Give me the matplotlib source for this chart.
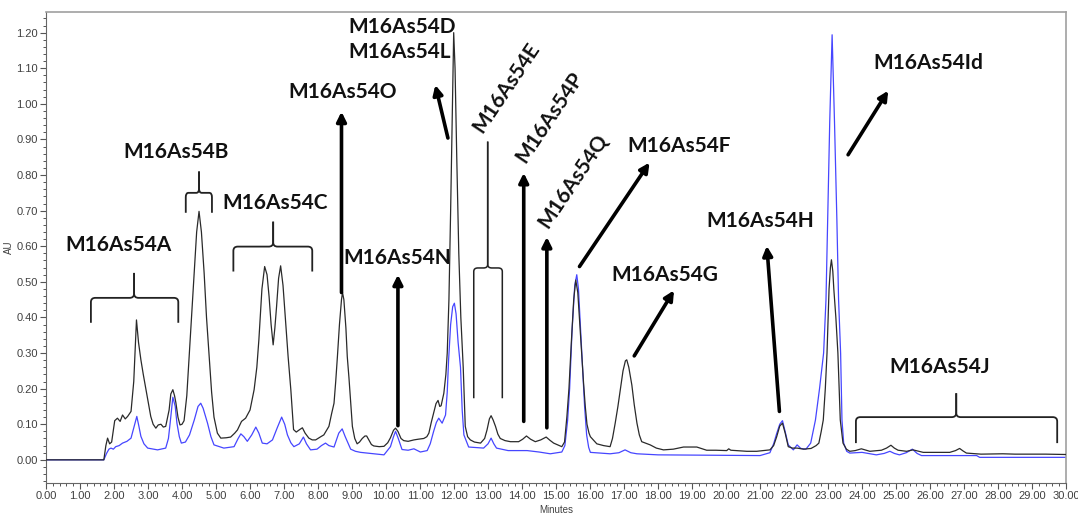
import numpy as np
import matplotlib
matplotlib.use("Agg")
import matplotlib.pyplot as plt
from matplotlib.path import Path
from matplotlib.patches import PathPatch
from matplotlib.ticker import MultipleLocator, FormatStrFormatter

# Cromatograma 1: traza negra (minutos, AU)
t_negro = [0.00, 1.70, 1.76, 1.81, 1.87, 1.93, 2.02, 2.10, 2.18, 2.25, 2.33, 2.40, 2.50, 2.58,
           2.66, 2.72, 2.79, 2.86, 2.94, 3.08, 3.15, 3.23, 3.30, 3.38, 3.45, 3.52, 3.62, 3.67,
           3.73, 3.78, 3.82, 3.88, 3.94, 4.00, 4.06, 4.14, 4.21, 4.29, 4.36, 4.43, 4.50, 4.57,
           4.65, 4.72, 4.80, 4.87, 4.94, 5.04, 5.14, 5.30, 5.43, 5.55, 5.63, 5.75, 5.87, 6.00,
           6.12, 6.20, 6.26, 6.35, 6.43, 6.50, 6.56, 6.62, 6.68, 6.73, 6.78, 6.84, 6.90, 6.97,
           7.05, 7.12, 7.20, 7.28, 7.36, 7.46, 7.54, 7.62, 7.73, 7.83, 7.93, 8.08, 8.17, 8.32,
           8.40, 8.47, 8.52, 8.57, 8.63, 8.69, 8.72, 8.76, 8.82, 8.86, 8.91, 8.96, 9.01, 9.08,
           9.15, 9.22, 9.30, 9.38, 9.43, 9.50, 9.57, 9.64, 9.80, 9.94, 10.05, 10.13, 10.22,
           10.28, 10.35, 10.44, 10.52, 10.65, 10.82, 10.95, 11.11, 11.20, 11.26, 11.33, 11.40,
           11.47, 11.53, 11.58, 11.62, 11.70, 11.76, 11.80, 11.85, 11.90, 11.95, 11.99, 12.03,
           12.08, 12.14, 12.20, 12.27, 12.33, 12.40, 12.48, 12.60, 12.78, 12.90, 12.97, 13.04,
           13.09, 13.15, 13.22, 13.29, 13.36, 13.50, 13.66, 13.90, 14.02, 14.13, 14.25, 14.39,
           14.55, 14.71, 14.82, 14.93, 15.05, 15.17, 15.25, 15.32, 15.38, 15.45, 15.52, 15.58,
           15.64, 15.70, 15.76, 15.81, 15.86, 15.91, 15.97, 16.01, 16.20, 16.40, 16.59, 16.66,
           16.74, 16.82, 16.89, 16.97, 17.04, 17.08, 17.14, 17.23, 17.30, 17.38, 17.45, 17.52,
           17.77, 17.95, 18.16, 18.45, 18.75, 19.14, 19.43, 19.70, 20.02, 20.08, 20.14, 20.61,
           20.90, 21.10, 21.29, 21.40, 21.49, 21.58, 21.66, 21.74, 21.83, 21.95, 22.09, 22.28,
           22.50, 22.65, 22.73, 22.80, 22.86, 22.92, 22.97, 23.03, 23.07, 23.10, 23.14, 23.17,
           23.23, 23.29, 23.36, 23.44, 23.54, 23.64, 23.80, 23.98, 24.23, 24.57, 24.72, 24.85,
           24.95, 25.06, 25.31, 25.50, 25.80, 26.58, 26.75, 26.87, 26.97, 27.07, 27.50, 28.14,
           28.50, 28.92, 29.40, 30.00]
au_negro = [0.000, 0.000, 0.040, 0.061, 0.045, 0.050, 0.110, 0.117, 0.108, 0.126, 0.115, 0.122,
            0.136, 0.220, 0.393, 0.330, 0.281, 0.240, 0.197, 0.122, 0.100, 0.089, 0.098, 0.100,
            0.092, 0.094, 0.140, 0.185, 0.197, 0.180, 0.160, 0.120, 0.098, 0.100, 0.110, 0.180,
            0.290, 0.420, 0.525, 0.640, 0.698, 0.640, 0.525, 0.400, 0.290, 0.190, 0.120, 0.075,
            0.061, 0.062, 0.064, 0.075, 0.084, 0.108, 0.117, 0.140, 0.197, 0.260, 0.337, 0.480,
            0.543, 0.520, 0.459, 0.380, 0.323, 0.370, 0.430, 0.510, 0.545, 0.490, 0.384, 0.290,
            0.197, 0.085, 0.078, 0.085, 0.090, 0.075, 0.061, 0.056, 0.056, 0.065, 0.070, 0.094,
            0.130, 0.159, 0.220, 0.290, 0.380, 0.450, 0.470, 0.450, 0.370, 0.290, 0.230, 0.160,
            0.094, 0.060, 0.045, 0.050, 0.060, 0.067, 0.067, 0.055, 0.043, 0.039, 0.037, 0.038,
            0.048, 0.062, 0.083, 0.089, 0.080, 0.060, 0.054, 0.052, 0.056, 0.058, 0.060, 0.065,
            0.075, 0.105, 0.131, 0.158, 0.167, 0.150, 0.152, 0.187, 0.240, 0.300, 0.450, 0.700,
            0.980, 1.200, 1.100, 0.850, 0.580, 0.400, 0.260, 0.094, 0.065, 0.056, 0.050, 0.047,
            0.060, 0.084, 0.115, 0.124, 0.112, 0.094, 0.072, 0.060, 0.054, 0.051, 0.051, 0.058,
            0.067, 0.058, 0.051, 0.056, 0.064, 0.055, 0.047, 0.042, 0.037, 0.050, 0.122, 0.200,
            0.330, 0.450, 0.505, 0.470, 0.380, 0.290, 0.215, 0.150, 0.100, 0.075, 0.065, 0.045,
            0.040, 0.037, 0.060, 0.103, 0.150, 0.197, 0.250, 0.278, 0.281, 0.260, 0.210, 0.155,
            0.103, 0.070, 0.051, 0.042, 0.033, 0.028, 0.030, 0.036, 0.036, 0.027, 0.027, 0.026,
            0.031, 0.027, 0.024, 0.024, 0.026, 0.028, 0.040, 0.065, 0.095, 0.103, 0.075, 0.037,
            0.033, 0.033, 0.030, 0.032, 0.040, 0.047, 0.080, 0.112, 0.200, 0.300, 0.480, 0.540,
            0.562, 0.530, 0.480, 0.400, 0.300, 0.112, 0.047, 0.030, 0.024, 0.026, 0.031, 0.024,
            0.027, 0.033, 0.041, 0.033, 0.027, 0.024, 0.028, 0.021, 0.021, 0.026, 0.032, 0.025,
            0.019, 0.016, 0.017, 0.016, 0.016, 0.016, 0.015]

# Cromatograma 2: traza azul (minutos, AU)
t_azul = [0.00, 1.70, 1.78, 1.85, 1.91, 1.98, 2.05, 2.15, 2.25, 2.38, 2.50, 2.58, 2.67, 2.73,
          2.79, 2.88, 2.99, 3.28, 3.52, 3.60, 3.65, 3.73, 3.80, 3.85, 3.92, 3.98, 4.10, 4.22,
          4.36, 4.47, 4.55, 4.62, 4.75, 4.85, 4.94, 5.23, 5.53, 5.65, 5.73, 5.82, 5.92, 6.05,
          6.17, 6.26, 6.36, 6.50, 6.66, 6.80, 6.93, 7.02, 7.10, 7.20, 7.29, 7.45, 7.57, 7.66,
          7.78, 7.97, 8.10, 8.22, 8.32, 8.47, 8.61, 8.71, 8.80, 8.96, 9.10, 9.25, 9.64, 9.94,
          10.13, 10.22, 10.28, 10.36, 10.47, 10.65, 10.82, 11.01, 11.21, 11.30, 11.40, 11.48,
          11.55, 11.65, 11.75, 11.80, 11.84, 11.90, 11.96, 12.01, 12.06, 12.12, 12.19, 12.24,
          12.29, 12.43, 12.87, 13.00, 13.09, 13.17, 13.25, 13.59, 14.15, 14.50, 14.83, 15.17,
          15.26, 15.34, 15.40, 15.47, 15.55, 15.61, 15.66, 15.72, 15.78, 15.84, 15.90, 15.96,
          16.01, 16.59, 16.85, 17.03, 17.20, 17.38, 18.00, 19.50, 21.00, 21.29, 21.40, 21.49,
          21.58, 21.66, 21.75, 21.83, 21.98, 22.09, 22.20, 22.35, 22.49, 22.63, 22.75, 22.87,
          22.94, 22.99, 23.05, 23.12, 23.19, 23.26, 23.31, 23.37, 23.41, 23.46, 23.55, 23.64,
          24.00, 24.42, 24.65, 24.82, 24.95, 25.10, 25.30, 25.48, 25.62, 25.75, 27.37, 27.46,
          30.00]
au_azul = [0.000, 0.000, 0.018, 0.030, 0.033, 0.030, 0.037, 0.040, 0.047, 0.052, 0.061, 0.090,
           0.122, 0.095, 0.066, 0.045, 0.033, 0.028, 0.033, 0.060, 0.103, 0.176, 0.150, 0.103,
           0.065, 0.047, 0.050, 0.070, 0.112, 0.150, 0.159, 0.145, 0.103, 0.065, 0.042, 0.033,
           0.037, 0.060, 0.073, 0.065, 0.052, 0.070, 0.092, 0.075, 0.047, 0.045, 0.056, 0.090,
           0.120, 0.100, 0.070, 0.048, 0.037, 0.045, 0.064, 0.045, 0.028, 0.030, 0.040, 0.047,
           0.040, 0.036, 0.075, 0.087, 0.065, 0.030, 0.024, 0.021, 0.017, 0.014, 0.037, 0.065,
           0.080, 0.060, 0.029, 0.027, 0.031, 0.022, 0.026, 0.045, 0.080, 0.105, 0.117, 0.103,
           0.126, 0.190, 0.280, 0.380, 0.430, 0.440, 0.410, 0.330, 0.260, 0.140, 0.070, 0.036,
           0.033, 0.045, 0.061, 0.045, 0.033, 0.026, 0.026, 0.022, 0.017, 0.022, 0.040, 0.110,
           0.200, 0.360, 0.490, 0.520, 0.480, 0.370, 0.260, 0.150, 0.070, 0.035, 0.021, 0.017,
           0.020, 0.028, 0.020, 0.017, 0.014, 0.013, 0.012, 0.020, 0.045, 0.074, 0.100, 0.110,
           0.075, 0.042, 0.028, 0.042, 0.032, 0.030, 0.047, 0.112, 0.200, 0.300, 0.450, 0.674,
           0.950, 1.194, 0.950, 0.674, 0.450, 0.300, 0.112, 0.047, 0.024, 0.019, 0.021, 0.014,
           0.018, 0.024, 0.018, 0.014, 0.020, 0.030, 0.018, 0.012, 0.012, 0.007, 0.007]

FUENTE = ["Lato", "DejaVu Sans"]
FUENTE_EJES = ["Liberation Sans Narrow", "Liberation Sans", "DejaVu Sans"]


def llave(ax, x0, x1, xm, y_ext, y_barra, y_punta, rx=0.13, ry=0.012, lw=1.3):
    """Dibuja una llave horizontal con extremos hacia abajo y punta hacia arriba."""
    for xe, s in ((x0, 1), (x1, -1)):
        verts = [(xe, y_ext), (xe, y_barra - ry), (xe, y_barra), (xe + s * rx, y_barra),
                 (xm - s * rx, y_barra), (xm, y_barra), (xm, y_barra + ry), (xm, y_punta)]
        codes = [Path.MOVETO, Path.LINETO, Path.CURVE3, Path.CURVE3,
                 Path.LINETO, Path.CURVE3, Path.CURVE3, Path.LINETO]
        ax.add_patch(PathPatch(Path(verts, codes), fill=False, edgecolor="#222222",
                               lw=lw, clip_on=False))


def flecha(ax, cola, punta):
    ax.annotate("", xy=punta, xytext=cola,
                arrowprops=dict(arrowstyle="-|>", color="black", lw=2.6,
                                mutation_scale=14, shrinkA=0, shrinkB=0))


def main():
    fig = plt.figure(figsize=(10.78, 5.17), dpi=100)
    ax = fig.add_axes([0.0427, 0.0658, 0.9462, 0.911])

    ax.plot(t_azul, au_azul, color="#4646ff", lw=0.9, zorder=2)
    ax.plot(t_negro, au_negro, color="#2a2a2a", lw=0.9, zorder=3)

    ax.set_xlim(0, 30)
    ax.set_ylim(-0.065, 1.258)

    # Ejes estilo Empower
    ax.xaxis.set_major_locator(MultipleLocator(1))
    ax.xaxis.set_minor_locator(MultipleLocator(0.2))
    ax.yaxis.set_major_locator(MultipleLocator(0.1))
    ax.yaxis.set_minor_locator(MultipleLocator(0.02))
    ax.xaxis.set_major_formatter(FormatStrFormatter("%.2f"))
    ax.yaxis.set_major_formatter(FormatStrFormatter("%.2f"))
    ax.tick_params(which="major", length=4, width=0.8, color="#555555",
                   labelsize=8, labelcolor="#404040", pad=2)
    ax.tick_params(which="minor", length=2, width=0.7, color="#555555")
    for lab in ax.get_xticklabels() + ax.get_yticklabels():
        lab.set_family(FUENTE_EJES)
    for lado in ("left", "bottom"):
        ax.spines[lado].set_color("#666666")
    for lado in ("top", "right"):
        ax.spines[lado].set_color("#a0a0a0")
        ax.spines[lado].set_linewidth(1.2)

    ax.set_xlabel("Minutes", fontsize=7, color="#404040", family=FUENTE_EJES, labelpad=3)
    ax.set_ylabel("AU", fontsize=7, color="#404040", family=FUENTE_EJES)
    ax.yaxis.set_label_coords(-0.031, 0.5)

    txt = dict(fontsize=15, fontweight="bold", family=FUENTE, ha="center", va="center",
               color="#111111")

    # Etiquetas y llaves
    ax.text(2.14, 0.604, "M16As54A", **txt)
    llave(ax, 1.32, 3.89, 2.59, 0.385, 0.455, 0.525)
    ax.text(3.82, 0.865, "M16As54B", **txt)
    llave(ax, 4.11, 4.88, 4.50, 0.694, 0.750, 0.810, rx=0.08)
    ax.text(6.73, 0.722, "M16As54C", **txt)
    llave(ax, 5.51, 7.83, 6.68, 0.529, 0.599, 0.669)

    ax.text(8.72, 1.034, "M16As54O", **txt)
    flecha(ax, (8.69, 0.47), (8.69, 0.978))
    ax.text(10.34, 0.567, "M16As54N", **txt)
    flecha(ax, (10.35, 0.096), (10.35, 0.52))

    ax.text(8.90, 1.18, "M16As54D\nM16As54L", fontsize=15, fontweight="bold", family=FUENTE,
            ha="left", va="center", linespacing=1.3, color="#111111", clip_on=False)
    flecha(ax, (11.82, 0.904), (11.45, 1.053))

    ax.text(13.54, 1.045, "M16As54E", rotation=56, rotation_mode="anchor", **txt)
    llave(ax, 12.58, 13.42, 12.99, 0.173, 0.539, 0.894, rx=0.12, ry=0.01, lw=1.1)

    ax.text(14.80, 0.963, "M16As54P", rotation=56, rotation_mode="anchor", **txt)
    flecha(ax, (14.05, 0.108), (14.05, 0.806))
    ax.text(15.51, 0.784, "M16As54Q", rotation=56, rotation_mode="anchor", **txt)
    flecha(ax, (14.73, 0.09), (14.73, 0.626))

    ax.text(18.62, 0.882, "M16As54F", **txt)
    flecha(ax, (15.69, 0.543), (17.75, 0.835))
    ax.text(18.21, 0.520, "M16As54G", **txt)
    flecha(ax, (17.30, 0.292), (18.47, 0.476))
    ax.text(21.00, 0.670, "M16As54H", **txt)
    flecha(ax, (21.57, 0.136), (21.20, 0.601))
    ax.text(25.96, 1.114, "M16As54Id", **txt)
    flecha(ax, (23.59, 0.857), (24.77, 1.037))
    ax.text(26.28, 0.262, "M16As54J", **txt)
    llave(ax, 23.82, 29.74, 26.77, 0.047, 0.120, 0.187)

    fig.savefig("out.png", dpi=100)


if __name__ == "__main__":
    main()
